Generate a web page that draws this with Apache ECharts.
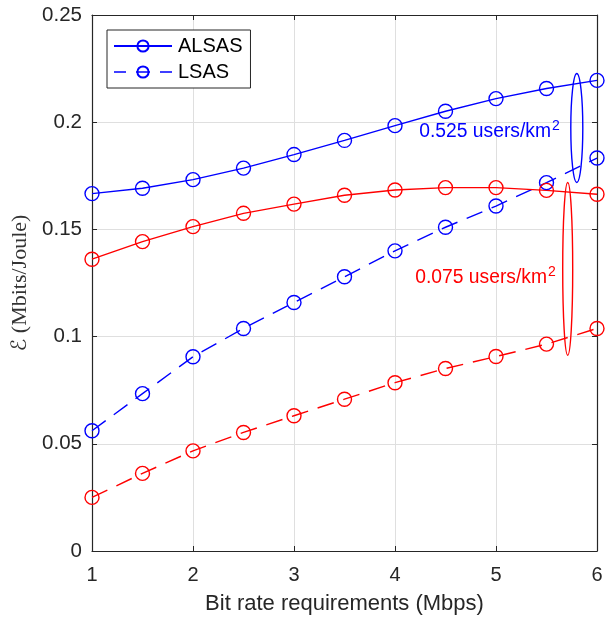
<!DOCTYPE html>
<html>
<head>
<meta charset="utf-8">
<script src="https://cdn.jsdelivr.net/npm/echarts@6/dist/echarts.min.js"></script>
<style>html,body{margin:0;padding:0;background:#fff;}#c{width:610px;height:620px;}</style>
</head>
<body>
<div id="c"></div>
<script>
const xValues = [1, 1.5, 2, 2.5, 3, 3.5, 4, 4.5, 5, 5.5, 6];
const alsasHigh = [0.1667, 0.1692, 0.1732, 0.1786, 0.1849, 0.1915, 0.1984, 0.2051, 0.2110, 0.2157, 0.2195];
const lsasHigh  = [0.0561, 0.0734, 0.0906, 0.1038, 0.1159, 0.1279, 0.1400, 0.1510, 0.1609, 0.1718, 0.1833];
const alsasLow  = [0.1361, 0.1443, 0.1513, 0.1575, 0.1618, 0.1659, 0.1684, 0.1695, 0.1695, 0.1682, 0.1664];
const lsasLow   = [0.0250, 0.0362, 0.0467, 0.0553, 0.0631, 0.0708, 0.0785, 0.0851, 0.0907, 0.0965, 0.1038];
const legendNames = ['ALSAS', 'LSAS'];
const densityLabels = ['0.525', '0.075'];
const xTicks = [1, 2, 3, 4, 5, 6];
const yTicks = [0, 0.05, 0.1, 0.15, 0.2, 0.25];

const FONT = '"Liberation Sans", Arial, Helvetica, sans-serif';
const AX = '#262626';
const BLUE = '#0000ff';
const RED = '#ff0000';

function pairs(arr) { return xValues.map((x, i) => [x, arr[i]]); }

function mkSeries(name, data, color, dashed) {
  return {
    name: name,
    type: 'line',
    data: pairs(data),
    symbol: 'circle',
    symbolSize: 14,
    showSymbol: true,
    color: color,
    lineStyle: { color: color, width: 1.4, type: dashed ? [17, 10] : 'solid' },
    itemStyle: { color: 'rgba(255,255,255,0)', borderColor: color, borderWidth: 1.4 },
    emphasis: { disabled: true },
    animation: false,
    z: 3
  };
}

const chart = echarts.init(document.getElementById('c'), null, { renderer: 'canvas' });

const axisCommonX = {
  type: 'value', min: 1, max: 6, interval: 1,
  axisLine: { show: true, onZero: false, lineStyle: { color: AX, width: 1.2 } },
  axisTick: { show: true, inside: true, length: 5, lineStyle: { color: AX, width: 1 } },
  splitLine: { show: false }
};
const axisCommonY = {
  type: 'value', min: 0, max: 0.25, interval: 0.05,
  axisLine: { show: true, onZero: false, lineStyle: { color: AX, width: 1.2 } },
  axisTick: { show: true, inside: true, length: 5, lineStyle: { color: AX, width: 1 } },
  splitLine: { show: false }
};

chart.setOption({
  animation: false,
  backgroundColor: '#fff',
  grid: { left: 92, right: 13, top: 15, bottom: 68, containLabel: false },
  legend: {
    data: [
      { name: legendNames[0] },
      { name: legendNames[1], lineStyle: { type: [12, 10, 14, 10, 12, 200], width: 1.4 } }
    ],
    orient: 'vertical',
    left: 107, top: 30,
    itemWidth: 58, itemHeight: 14, itemGap: 6,
    padding: [6, 8, 6, 6],
    backgroundColor: '#fff',
    borderColor: AX, borderWidth: 1,
    textStyle: { fontFamily: FONT, fontSize: 20, color: '#000', padding: [0, 0, 0, 1] },
    selectedMode: false
  },
  xAxis: [
    Object.assign({}, axisCommonX, {
      position: 'bottom',
      splitLine: { show: true, lineStyle: { color: '#dfdfdf', width: 1 } },
      axisLabel: { show: true, margin: 14, fontFamily: FONT, fontSize: 20, color: AX,
        formatter: v => (xTicks.indexOf(v) >= 0 ? String(v) : '') },
      name: 'Bit rate requirements (Mbps)',
      nameLocation: 'middle', nameGap: 42,
      nameTextStyle: { fontFamily: FONT, fontSize: 22, color: AX }
    }),
    Object.assign({}, axisCommonX, { position: 'top', axisLabel: { show: false } })
  ],
  yAxis: [
    Object.assign({}, axisCommonY, {
      position: 'left',
      splitLine: { show: true, lineStyle: { color: '#dfdfdf', width: 1 } },
      axisLabel: { show: true, margin: 10, fontFamily: FONT, fontSize: 20.5, color: AX,
        formatter: v => { const t = yTicks.find(y => Math.abs(y - v) < 1e-9); return t === undefined ? '' : String(+t.toFixed(2)); } },
      name: '{e|ℰ} (Mbits/Joule)',
      nameLocation: 'middle', nameGap: 60, nameRotate: 90,
      nameTextStyle: { fontFamily: '"Liberation Serif", "DejaVu Serif", serif', fontSize: 22, color: '#333',
        rich: { e: { fontFamily: '"DejaVu Sans", "DejaVu Serif", serif', fontSize: 21, color: '#333' } } }
    }),
    Object.assign({}, axisCommonY, { position: 'right', axisLabel: { show: false } })
  ],
  series: [
    mkSeries('ALSAS', alsasHigh, BLUE, false),
    mkSeries('LSAS', lsasHigh, BLUE, true),
    mkSeries('ALSAS 0.075', alsasLow, RED, false),
    mkSeries('LSAS 0.075', lsasLow, RED, true)
  ]
});

function px(x, y) { return chart.convertToPixel({ xAxisIndex: 0, yAxisIndex: 0 }, [x, y]); }

const eB = px(5.80, 0.1973), eBt = px(5.80, 0.1973 + 0.0254);
const eR = px(5.71, 0.1316), eRt = px(5.71, 0.1316 + 0.0403);
const tB = px(4.24, 0.1955);
const tR = px(4.20, 0.1275);

chart.setOption({
  graphic: [
    { type: 'ellipse', shape: { cx: eB[0], cy: eB[1], rx: 6, ry: eB[1] - eBt[1] },
      style: { fill: 'none', stroke: BLUE, lineWidth: 1.4 }, z: 10 },
    { type: 'ellipse', shape: { cx: eR[0], cy: eR[1], rx: 5, ry: eR[1] - eRt[1] },
      style: { fill: 'none', stroke: RED, lineWidth: 1.4 }, z: 10 },
    { type: 'text', x: tB[0], y: tB[1], z: 10,
      style: { text: '{a|' + densityLabels[0] + ' users/km}{s|2}', fill: BLUE, verticalAlign: 'middle',
        rich: { a: { fontFamily: FONT, fontSize: 19.3, color: BLUE },
                s: { fontFamily: FONT, fontSize: 14, color: BLUE, verticalAlign: 'top', padding: [0, 0, 11, 1] } } } },
    { type: 'text', x: tR[0], y: tR[1], z: 10,
      style: { text: '{a|' + densityLabels[1] + ' users/km}{s|2}', fill: RED, verticalAlign: 'middle',
        rich: { a: { fontFamily: FONT, fontSize: 19.3, color: RED },
                s: { fontFamily: FONT, fontSize: 14, color: RED, verticalAlign: 'top', padding: [0, 0, 11, 1] } } } }
  ]
});
</script>
</body>
</html>
